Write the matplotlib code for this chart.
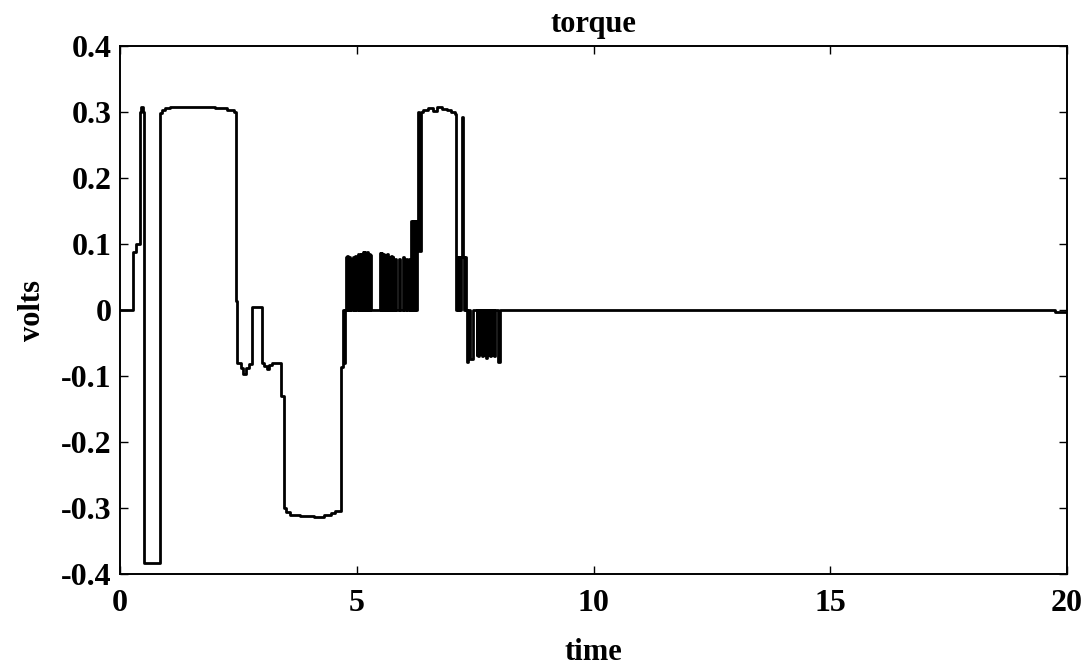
import matplotlib
matplotlib.use("Agg")
import matplotlib.pyplot as plt

plt.rcParams['font.family'] = ['Liberation Serif', 'DejaVu Serif']
plt.rcParams['font.weight'] = 'bold'

# torque command (volts), held between switching times (steps-post)
switch_t = [
    0.00, 0.28, 0.34, 0.42, 0.44, 0.48, 0.51, 0.84, 0.88, 0.95, 1.05,
    2.00, 2.25, 2.40, 2.45, 2.48, 2.55, 2.60, 2.66, 2.72, 2.79, 2.99,
    3.05, 3.10, 3.14, 3.20, 3.41, 3.46, 3.50, 3.58, 3.80, 4.10, 4.30,
    4.45, 4.55, 4.66, 4.70, 4.71, 4.72, 4.74, 4.75,
    4.77, 4.79, 4.80, 4.82, 4.83, 4.85, 4.86, 4.89, 4.92, 4.94, 4.97, 4.99,
    5.03, 5.05, 5.08, 5.10, 5.13, 5.15, 5.16, 5.18, 5.19, 5.21, 5.22, 5.24,
    5.25, 5.27, 5.28, 5.31, 5.49, 5.51, 5.52, 5.54, 5.55, 5.57, 5.58, 5.60,
    5.61, 5.63, 5.64, 5.66, 5.67, 5.69, 5.70, 5.72, 5.73, 5.75, 5.76, 5.77,
    5.80, 5.82, 5.89, 5.91, 5.98, 6.00, 6.05, 6.07, 6.10, 6.12,
    6.15, 6.17, 6.19, 6.21, 6.23, 6.25, 6.27, 6.29, 6.32, 6.35, 6.40,
    6.50, 6.60, 6.70, 6.80, 6.90, 7.00, 7.08,
    7.10, 7.12, 7.14, 7.16, 7.18, 7.20, 7.22, 7.25, 7.27, 7.29, 7.31,
    7.33, 7.35, 7.40, 7.45, 7.53, 7.55, 7.57, 7.59, 7.61, 7.63,
    7.65, 7.67, 7.69, 7.71, 7.73, 7.75, 7.77, 7.79, 7.81, 7.83, 7.85,
    7.87, 7.89, 7.91, 7.98, 8.02, 19.75, 20.00,
]
volts = [
    0.000, 0.088, 0.100, 0.300, 0.307, 0.300, -0.383, 0.298, 0.303, 0.306, 0.308,
    0.306, 0.303, 0.300, 0.013, -0.080, -0.088, -0.097, -0.088, -0.082, 0.005, -0.080,
    -0.085, -0.090, -0.084, -0.080, -0.130, -0.300, -0.306, -0.310, -0.312, -0.313, -0.311,
    -0.308, -0.304, -0.086, 0.000, -0.085, 0.000, -0.080, 0.000,
    0.080, 0.000, 0.082, 0.000, 0.080, 0.000, 0.078, 0.000, 0.080, 0.000, 0.082, 0.000,
    0.085, 0.000, 0.085, 0.000, 0.088, 0.000, 0.088, 0.000, 0.087, 0.000, 0.088, 0.000,
    0.085, 0.000, 0.083, 0.000, 0.086, 0.000, 0.087, 0.000, 0.085, 0.000, 0.080, 0.000,
    0.083, 0.000, 0.085, 0.000, 0.078, 0.000, 0.080, 0.000, 0.082, 0.000, 0.080, 0.000,
    0.078, 0.000, 0.078, 0.000, 0.080, 0.000, 0.077, 0.000, 0.077, 0.000,
    0.135, 0.000, 0.135, 0.000, 0.135, 0.000, 0.135, 0.300, 0.090, 0.300, 0.303,
    0.306, 0.302, 0.307, 0.305, 0.303, 0.300, 0.297,
    0.000, 0.080, 0.000, 0.080, 0.000, 0.080, 0.293, 0.080, 0.000, 0.080, 0.000,
    -0.078, 0.000, -0.074, 0.000, -0.068, 0.000, -0.070, 0.000, -0.066, 0.000,
    -0.070, 0.000, -0.068, 0.000, -0.072, 0.000, -0.068, 0.000, -0.070, 0.000, -0.068,
    0.000, -0.070, 0.000, -0.078, 0.000, -0.003, -0.003,
]

xticks = [0, 5, 10, 15, 20]
yticks = [-0.4, -0.3, -0.2, -0.1, 0, 0.1, 0.2, 0.3, 0.4]
ytick_labels = ['-0.4', '-0.3', '-0.2', '-0.1', '0', '0.1', '0.2', '0.3', '0.4']

fig = plt.figure(figsize=(10.88, 6.67), dpi=100)
ax = fig.add_axes([0.1103, 0.1394, 0.8704, 0.7916])

ax.plot(switch_t, volts, color='k', lw=2.0, drawstyle='steps-post')

ax.set_xlim(0, 20)
ax.set_ylim(-0.4, 0.4)
ax.set_xticks(xticks)
ax.set_xticklabels([str(v) for v in xticks])
ax.set_yticks(yticks)
ax.set_yticklabels(ytick_labels)
ax.tick_params(direction='in', length=6, width=1.0, labelsize=23,
               top=True, right=True)
ax.tick_params(axis='x', pad=11)
ax.tick_params(axis='y', pad=6)
for s in ax.spines.values():
    s.set_linewidth(1.4)

ax.set_title('torque', fontsize=22, fontweight='bold', pad=10)
ax.set_xlabel('time', fontsize=22, fontweight='bold', labelpad=14)
ax.set_ylabel('volts', fontsize=22, fontweight='bold', labelpad=10)

fig.savefig('out.png', dpi=100)
